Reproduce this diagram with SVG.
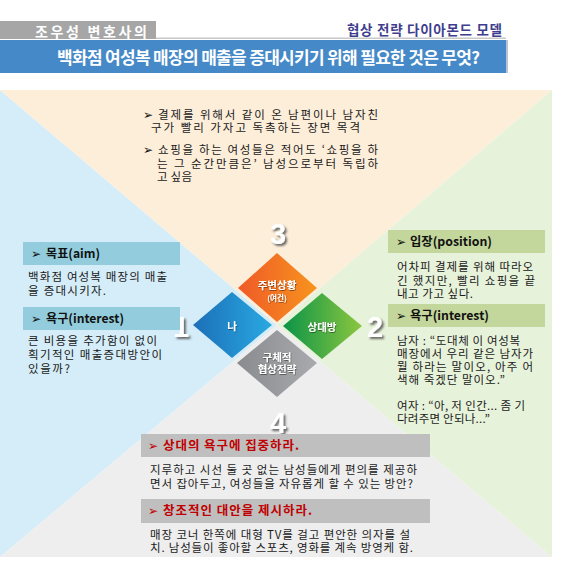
<svg xmlns="http://www.w3.org/2000/svg" width="570" height="561" viewBox="0 0 570 561">
<defs>
<style>
.kr{font-family:"Noto Sans CJK KR","Noto Sans",sans-serif;}
.body{font-family:"Noto Sans CJK KR","Noto Sans",sans-serif;font-size:11.5px;fill:#1a1a1a;}
.hd{font-family:"Noto Sans CJK KR","Noto Sans",sans-serif;font-size:12.5px;font-weight:bold;fill:#111;}
.hdr{font-family:"Noto Sans CJK KR","Noto Sans",sans-serif;font-size:12.5px;font-weight:bold;fill:#C00000;}
.bul{font-family:"DejaVu Sans",sans-serif;font-size:12px;}
.num{font-family:"Liberation Sans",Arial,sans-serif;font-size:29px;font-weight:bold;fill:#fff;text-anchor:middle;}
.dl{font-family:"Noto Sans CJK KR","Noto Sans",sans-serif;font-weight:bold;fill:#fff;text-anchor:middle;}
</style>
<filter id="sh" x="-50%" y="-50%" width="200%" height="200%">
<feDropShadow dx="2" dy="2" stdDeviation="1.2" flood-color="#444" flood-opacity="0.8"/>
</filter>
<filter id="sh2" x="-20%" y="-50%" width="140%" height="200%">
<feDropShadow dx="0.6" dy="0.8" stdDeviation="0.6" flood-color="#000" flood-opacity="0.5"/>
</filter>
<linearGradient id="gO" x1="0" y1="0" x2="1" y2="0"><stop offset="0" stop-color="#EF5A28"/><stop offset="1" stop-color="#F7941D"/></linearGradient>
<linearGradient id="gB" x1="0" y1="0" x2="1" y2="0"><stop offset="0" stop-color="#1C6FB8"/><stop offset="1" stop-color="#29A9E1"/></linearGradient>
<linearGradient id="gG" x1="0" y1="0" x2="1" y2="0"><stop offset="0" stop-color="#0A9447"/><stop offset="1" stop-color="#8CC63F"/></linearGradient>
<linearGradient id="gS" x1="0" y1="0" x2="1" y2="0"><stop offset="0" stop-color="#8A8B8F"/><stop offset="1" stop-color="#A9AAAD"/></linearGradient>
</defs>
<rect width="570" height="561" fill="#fff"/>

<g id="header">
<rect x="0" y="21" width="156" height="18" fill="#A6A6A6"/>
<text x="35" y="36.5" class="kr" font-size="14" font-weight="bold" fill="#fff" textLength="112" lengthAdjust="spacing">조우성 변호사의</text>
<rect x="156" y="37.5" width="350" height="1.5" fill="#C8C8C8"/>
<text x="347" y="35" class="kr" font-size="13.5" font-weight="bold" fill="#3F3E8E" textLength="155" lengthAdjust="spacing">협상 전략 다이아몬드 모델</text>
<rect x="0" y="40" width="506" height="33" fill="#4589C8"/>
<rect x="506" y="40" width="2" height="33" fill="#B8C4D0"/>
<text x="57" y="64" class="kr" font-size="17" font-weight="bold" fill="#fff" textLength="423" lengthAdjust="spacing">백화점 여성복 매장의 매출을 증대시키기 위해 필요한 것은 무엇?</text>
</g>

<g id="background">
<polygon points="0,90 277,325 0,557" fill="#D5EDF8"/>
<polygon points="0,90 552,90 277,325" fill="#FDEEDA"/>
<polygon points="552,90 552,557 277,325" fill="#E7F2DA"/>
<polygon points="0,557 552,557 277,325" fill="#EEEEEE"/>
</g>

<g id="numbers">
<text x="278" y="244" class="num" filter="url(#sh)">3</text>
<text x="181" y="337" class="num" filter="url(#sh)">1</text>
<text x="375" y="337" class="num" filter="url(#sh)">2</text>
<text x="278" y="433" class="num" filter="url(#sh)">4</text>
</g>

<g id="diamonds">
<g id="node-surroundings">
<polygon points="277,253 317,288 277,322 238,288" fill="url(#gO)"/>
<text x="277" y="289" class="dl" font-size="10.5" filter="url(#sh2)">주변상황</text>
<text x="277" y="301" class="dl" font-size="7.5" filter="url(#sh2)">(여건)</text>
</g>
<g id="node-me">
<polygon points="232,292 272,325 232,358 193,325" fill="url(#gB)"/>
<text x="232" y="330" class="dl" font-size="10.5" filter="url(#sh2)">나</text>
</g>
<g id="node-counterpart">
<polygon points="322,293 362,326 322,359 283,326" fill="url(#gG)"/>
<text x="322" y="331" class="dl" font-size="10.5" filter="url(#sh2)">상대방</text>
</g>
<g id="node-strategy">
<polygon points="277,330 317,363 277,397 237,363" fill="url(#gS)"/>
<text x="277" y="361" class="dl" font-size="10.5" filter="url(#sh2)">구체적</text>
<text x="277" y="373" class="dl" font-size="10.5" filter="url(#sh2)">협상전략</text>
</g>
</g>

<g id="panel-top">
<text x="143" y="119" class="bul" fill="#111">➢</text>
<text x="158" y="119" class="body" textLength="220" lengthAdjust="spacing">결제를 위해서 같이 온 남편이나 남자친</text>
<text x="151" y="132" class="body" textLength="209" lengthAdjust="spacing">구가 빨리 가자고 독촉하는 장면 목격</text>
<text x="143" y="154" class="bul" fill="#111">➢</text>
<text x="158" y="154" class="body" textLength="220" lengthAdjust="spacing">쇼핑을 하는 여성들은 적어도 ‘쇼핑을 하</text>
<text x="157" y="168" class="body" textLength="221" lengthAdjust="spacing">는 그 순간만큼은’ 남성으로부터 독립하</text>
<text x="157" y="181" class="body" textLength="35" lengthAdjust="spacing">고 싶음</text>
</g>

<g id="panel-me">
<rect x="23" y="242" width="157" height="23" fill="#93CDDD"/>
<text x="31" y="258" class="bul" fill="#111">➢</text>
<text x="46" y="258" class="hd" textLength="54" lengthAdjust="spacingAndGlyphs">목표(aim)</text>
<text x="28" y="281" class="body" textLength="139" lengthAdjust="spacing">백화점 여성복 매장의 매출</text>
<text x="28" y="295" class="body" textLength="78" lengthAdjust="spacing">을 증대시키자.</text>
<rect x="23" y="307" width="157" height="23" fill="#93CDDD"/>
<text x="31" y="323" class="bul" fill="#111">➢</text>
<text x="46" y="323" class="hd" textLength="78" lengthAdjust="spacingAndGlyphs">욕구(interest)</text>
<text x="28" y="345" class="body" textLength="129" lengthAdjust="spacing">큰 비용을 추가함이 없이</text>
<text x="28" y="359" class="body" textLength="134" lengthAdjust="spacing">획기적인 매출증대방안이</text>
<text x="28" y="373" class="body" textLength="42" lengthAdjust="spacing">있을까?</text>
</g>

<g id="panel-counterpart">
<rect x="388" y="230" width="157" height="23" fill="#C3D69B"/>
<text x="396" y="246" class="bul" fill="#111">➢</text>
<text x="410" y="246" class="hd" textLength="82" lengthAdjust="spacingAndGlyphs">입장(position)</text>
<text x="397" y="271" class="body" textLength="136" lengthAdjust="spacing">어차피 결제를 위해 따라오</text>
<text x="397" y="285" class="body" textLength="138" lengthAdjust="spacing">긴 했지만, 빨리 쇼핑을 끝</text>
<text x="397" y="298" class="body" textLength="76" lengthAdjust="spacing">내고 가고 싶다.</text>
<rect x="388" y="304" width="157" height="23" fill="#C3D69B"/>
<text x="396" y="320" class="bul" fill="#111">➢</text>
<text x="410" y="320" class="hd" textLength="79" lengthAdjust="spacingAndGlyphs">욕구(interest)</text>
<text x="397" y="345" class="body" textLength="123" lengthAdjust="spacing">남자 : “도대체 이 여성복</text>
<text x="397" y="358" class="body" textLength="136" lengthAdjust="spacing">매장에서 우리 같은 남자가</text>
<text x="397" y="371" class="body" textLength="136" lengthAdjust="spacing">뭘 하라는 말이오, 아주 어</text>
<text x="397" y="384" class="body" textLength="108" lengthAdjust="spacing">색해 죽겠단 말이오.”</text>
<text x="397" y="410" class="body" textLength="128" lengthAdjust="spacing">여자 : “아, 저 인간... 좀 기</text>
<text x="397" y="423" class="body" textLength="93" lengthAdjust="spacing">다려주면 안되나...”</text>
</g>

<g id="panel-strategy">
<rect x="141" y="434" width="289" height="23" fill="#BFBFBF"/>
<text x="148" y="450" class="bul" fill="#C00000">➢</text>
<text x="163" y="450" class="hdr" textLength="136" lengthAdjust="spacing">상대의 욕구에 집중하라.</text>
<text x="150" y="474" class="body" textLength="267" lengthAdjust="spacing">지루하고 시선 둘 곳 없는 남성들에게 편의를 제공하</text>
<text x="150" y="488" class="body" textLength="263" lengthAdjust="spacing">면서 잡아두고, 여성들을 자유롭게 할 수 있는 방안?</text>
<rect x="141" y="499" width="289" height="24" fill="#BFBFBF"/>
<text x="148" y="515" class="bul" fill="#C00000">➢</text>
<text x="163" y="515" class="hdr" textLength="149" lengthAdjust="spacing">창조적인 대안을 제시하라.</text>
<text x="150" y="539" class="body" textLength="260" lengthAdjust="spacing">매장 코너 한쪽에 대형 TV를 걸고 편안한 의자를 설</text>
<text x="150" y="552" class="body" textLength="263" lengthAdjust="spacing">치. 남성들이 좋아할 스포츠, 영화를 계속 방영케 함.</text>
</g>
</svg>
